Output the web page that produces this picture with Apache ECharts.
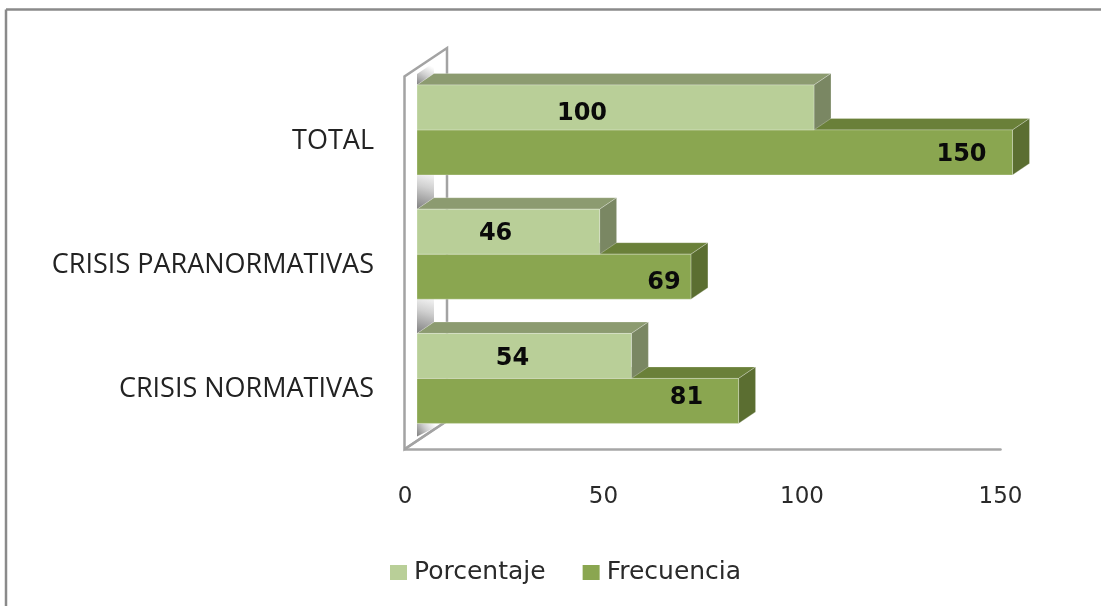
<!DOCTYPE html>
<html>
<head>
<meta charset="utf-8">
<style>html,body{margin:0;padding:0;background:#fff}#c{width:1101px;height:606px;filter:blur(0.45px)}</style>
<script src="https://cdn.jsdelivr.net/npm/echarts@6/dist/echarts.min.js"></script>
</head>
<body>
<div id="c"></div>
<script>
const categories = ['CRISIS NORMATIVAS', 'CRISIS PARANORMATIVAS', 'TOTAL'];
const porcentaje = [54, 46, 100];
const frecuencia = [81, 69, 150];
const xTicks = [0, 50, 100, 150];

// label placement relative to the bar's front end and centre, px
const porcentajeLabelShift = [[-119, 3], [-104, 2], [-232, 6.5]];
const frecuenciaLabelShift = [[-52, -3], [-27, 6], [-51, 2]];

const FONT = '"DejaVu Sans", sans-serif';
const DX = 12, DY = -8.7;      // front plane offset from the floor edge
const DEPTH_X = 17, DEPTH_Y = -11.5;
const BAR_RATIO = 0.362;
const EDGE = 'rgba(255,255,255,0.25)';

const chart = echarts.init(document.getElementById('c'));

function barRenderer(colors, above, shifts) {
  return function (params, api) {
    const i = api.value(1);
    const end = api.coord([api.value(0), i]);
    const start = api.coord([0, i]);
    const h = api.size([0, 1])[1] * BAR_RATIO;
    const x0 = start[0] + DX, x1 = end[0] + DX;
    const mid = start[1] + DY;
    const y0 = above ? mid - h : mid;
    const y1 = y0 + h;
    const sh = shifts[params.dataIndex];
    return {
      type: 'group',
      children: [
        { type: 'polygon', shape: { points: [[x0, y0], [x0 + DEPTH_X, y0 + DEPTH_Y], [x1 + DEPTH_X, y0 + DEPTH_Y], [x1, y0]] },
          style: { fill: colors.top, stroke: EDGE, lineWidth: 1 } },
        { type: 'polygon', shape: { points: [[x1, y0], [x1 + DEPTH_X, y0 + DEPTH_Y], [x1 + DEPTH_X, y1 + DEPTH_Y], [x1, y1]] },
          style: { fill: colors.side, stroke: EDGE, lineWidth: 1 } },
        { type: 'rect', shape: { x: x0, y: y0, width: x1 - x0, height: h },
          style: { fill: colors.front, stroke: EDGE, lineWidth: 1 } },
        { type: 'text', x: x1 + sh[0], y: (y0 + y1) / 2 + sh[1],
          style: { text: String(api.value(0)), font: 'bold 24px "DejaVu Sans", sans-serif', fill: '#0a0a0a', align: 'center', verticalAlign: 'middle' } }
      ]
    };
  };
}

function wallRenderer(params, api) {
  const cs = params.coordSys;
  const xL = cs.x - 0.5, yT = cs.y, yB = cs.y + cs.height;
  const wx = 42.5, wy = -28.5;
  const stroke = { stroke: '#a3a3a3', lineWidth: 2.5, fill: null };
  const grad = () => new echarts.graphic.LinearGradient(0, 1, 0.7, 0.1, [
    { offset: 0, color: '#808080' }, { offset: 0.55, color: '#d0d0d0' }, { offset: 1, color: '#ffffff' }
  ]);
  const kids = [
    { type: 'polygon', shape: { points: [[xL, yB], [xL, yT], [xL + wx, yT + wy], [xL + wx, yB + wy]] },
      style: { fill: '#ffffff', stroke: '#a3a3a3', lineWidth: 2.5 } }
  ];
  const band = api.size([0, 1])[1];
  const h = band * BAR_RATIO;
  const x0 = cs.x + DX;
  categories.forEach(function (c, i) {
    const yFront = api.coord([0, i])[1] + DY - h;
    const gap = i === categories.length - 1 ? 11 : 34;
    kids.push({ type: 'polygon',
      shape: { points: [[x0, yFront], [x0 + DEPTH_X, yFront + DEPTH_Y], [x0 + DEPTH_X, yFront + DEPTH_Y - gap], [x0, yFront - gap]] },
      style: { fill: grad() } });
  });
  const yLow = api.coord([0, 0])[1] + DY + h;
  kids.push({ type: 'polygon', shape: { points: [[x0, yLow], [x0 + 26, yLow], [x0, yLow + 13]] }, style: { fill: grad() } });
  kids.push({ type: 'line', shape: { x1: xL, y1: yB, x2: xL + wx, y2: yB + wy }, style: stroke });
  return { type: 'group', children: kids };
}

const pairs = v => v.map((d, i) => [d, i]);

chart.setOption({
  animation: false,
  backgroundColor: '#ffffff',
  graphic: [
    { type: 'line', silent: true, z: 100, shape: { x1: 6, y1: 9.5, x2: 1101, y2: 9.5 }, style: { stroke: '#8a8a8a', lineWidth: 2.5 } },
    { type: 'line', silent: true, z: 100, shape: { x1: 6, y1: 9.5, x2: 6, y2: 606 }, style: { stroke: '#8a8a8a', lineWidth: 2.5 } }
  ],
  grid: { left: 405, top: 76.5, width: 595.5, height: 372.75, containLabel: false },
  legend: {
    left: 385, top: 555, icon: 'rect', itemWidth: 17, itemHeight: 15, itemGap: 37,
    data: ['Porcentaje', 'Frecuencia'],
    textStyle: { fontFamily: FONT, fontSize: 25, color: '#2a2a2a', padding: [0, 0, 0, 2] }
  },
  xAxis: {
    type: 'value', min: 0, max: 150, interval: 50,
    axisLine: { show: true, onZero: false, lineStyle: { color: '#a6a6a6', width: 2.5 } },
    axisTick: { show: false }, splitLine: { show: false },
    axisLabel: { margin: 36, fontFamily: FONT, fontSize: 23, color: '#2a2a2a',
      customValues: xTicks, hideOverlap: false, showMinLabel: true, showMaxLabel: true }
  },
  yAxis: {
    type: 'category', data: categories,
    axisLine: { show: false }, axisTick: { show: false }, splitLine: { show: false },
    axisLabel: { margin: 31, formatter: v => '{a|' + v + '}',
      rich: { a: { fontFamily: '"Open Sans", sans-serif', fontSize: 27, color: '#222222', padding: [5, 0, 0, 0] } } }
  },
  series: [
    { type: 'custom', name: 'wall', silent: true, z: 1, renderItem: wallRenderer, data: [[0, 0]], encode: { x: 0, y: 1 } },
    { type: 'custom', name: 'Frecuencia', z: 2, itemStyle: { color: '#8AA650' },
      renderItem: barRenderer({ front: '#8AA650', top: '#6A8039', side: '#5B6E31' }, false, frecuenciaLabelShift),
      data: pairs(frecuencia), encode: { x: 0, y: 1 } },
    { type: 'custom', name: 'Porcentaje', z: 3, itemStyle: { color: '#B9CF98' },
      renderItem: barRenderer({ front: '#B9CF98', top: '#8C9B70', side: '#7A8763' }, true, porcentajeLabelShift),
      data: pairs(porcentaje), encode: { x: 0, y: 1 } }
  ]
});
</script>
</body>
</html>
